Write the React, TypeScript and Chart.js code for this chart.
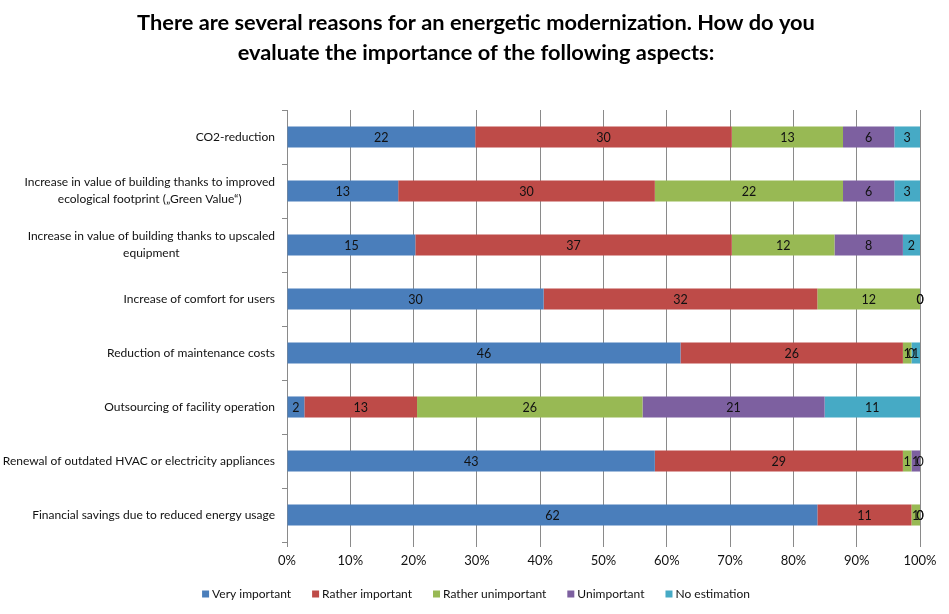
import React, { useEffect, useRef } from "react";
import { Chart, registerables } from "chart.js";

Chart.register(...registerables);

const titleLines = [
  "There are several reasons for an energetic modernization. How do you",
  "evaluate the importance of the following aspects:",
];

const categories: string[][] = [
  ["CO2-reduction"],
  ["Increase in value of building thanks to improved", "ecological footprint (\u201eGreen Value\u201c)"],
  ["Increase in value of building thanks to upscaled", "equipment"],
  ["Increase of comfort for users"],
  ["Reduction of maintenance costs"],
  ["Outsourcing of facility operation"],
  ["Renewal of outdated HVAC or electricity appliances"],
  ["Financial savings due to reduced energy usage"],
];

const seriesNames = ["Very important", "Rather important", "Rather unimportant", "Unimportant", "No estimation"];
const seriesColors = ["#4A7EBB", "#BE4B48", "#98B954", "#7D60A0", "#46AAC5"];

const veryImportant = [22, 13, 15, 30, 46, 2, 43, 62];
const ratherImportant = [30, 30, 37, 32, 26, 13, 29, 11];
const ratherUnimportant = [13, 22, 12, 12, 1, 26, 1, 1];
const unimportant = [6, 6, 8, 0, 0, 21, 1, 0];
const noEstimation = [3, 3, 2, 0, 1, 11, 0, 0];

const xTicks = [0, 10, 20, 30, 40, 50, 60, 70, 80, 90, 100];

const FONT = "Lato";

export default function App() {
  const ref = useRef<HTMLCanvasElement | null>(null);

  useEffect(() => {
    if (!ref.current) return;
    const counts = [veryImportant, ratherImportant, ratherUnimportant, unimportant, noEstimation];
    const totals = categories.map((_, i) => counts.reduce((s, arr) => s + arr[i], 0));

    const customPlugin = {
      id: "customLabels",
      afterDatasetsDraw(chart: any) {
        const ctx = chart.ctx;
        ctx.save();
        ctx.font = `12.5px ${FONT}`;
        ctx.fillStyle = "#111";
        ctx.textAlign = "center";
        ctx.textBaseline = "middle";
        chart.data.datasets.forEach((ds: any, di: number) => {
          const meta = chart.getDatasetMeta(di);
          meta.data.forEach((el: any, i: number) => {
            const cx = (el.x + el.base) / 2;
            ctx.fillText(String(ds.counts[i]), cx, el.y + 1);
          });
        });
        ctx.restore();
      },
      afterDraw(chart: any) {
        const ctx = chart.ctx;
        const y = chart.scales.y;
        ctx.save();
        ctx.font = `12px ${FONT}`;
        ctx.fillStyle = "#111";
        ctx.textBaseline = "middle";
        ctx.textAlign = "center";
        const right = y.right - 12;
        const lh = 17;
        categories.forEach((lines, i) => {
          const cy = y.getPixelForValue(i);
          const maxW = Math.max(...lines.map((l) => ctx.measureText(l).width));
          const cx = right - maxW / 2;
          lines.forEach((l, j) => {
            ctx.fillText(l, cx, cy + (j - (lines.length - 1) / 2) * lh);
          });
        });
        // legend
        const box = 7;
        const gapBoxText = 3;
        const gapItems = 21;
        const widths = seriesNames.map((n) => ctx.measureText(n).width);
        const total = widths.reduce((s, w) => s + box + gapBoxText + w, 0) + gapItems * (seriesNames.length - 1);
        let x = 476 - total / 2;
        const ly = 594;
        ctx.textAlign = "left";
        seriesNames.forEach((n, k) => {
          ctx.fillStyle = seriesColors[k];
          ctx.fillRect(x, ly - box / 2, box, box);
          ctx.fillStyle = "#111";
          ctx.fillText(n, x + box + gapBoxText, ly);
          x += box + gapBoxText + widths[k] + gapItems;
        });
        ctx.restore();
      },
    };

    const chart = new Chart(ref.current, {
      type: "bar",
      data: {
        labels: categories.map((c) => c.join(" ")),
        datasets: counts.map((arr, k) => ({
          label: seriesNames[k],
          data: arr.map((v, i) => (v / totals[i]) * 100),
          counts: arr,
          backgroundColor: seriesColors[k],
          borderWidth: 0,
          categoryPercentage: 1,
          barPercentage: 0.39,
        })) as any,
      },
      options: {
        indexAxis: "y",
        animation: false,
        responsive: false,
        layout: { padding: { top: 0, right: 29, bottom: 42, left: 32 } },
        plugins: {
          legend: { display: false },
          tooltip: { enabled: false },
          title: {
            display: true,
            text: titleLines,
            color: "#000",
            font: { family: FONT, size: 21.8, weight: "bold", lineHeight: 30 / 21.8 },
            padding: { top: 8, bottom: 42 },
          },
        },
        scales: {
          x: {
            stacked: true,
            min: 0,
            max: 100,
            afterBuildTicks(scale: any) {
              scale.ticks = xTicks.map((v) => ({ value: v }));
            },
            afterFit(scale: any) {
              scale.height = 30;
            },
            ticks: {
              color: "#111",
              font: { family: FONT, size: 13 },
              padding: 6,
              callback: (v: any) => `${v}%`,
            },
            grid: { color: "#8a8a8a", tickLength: 5, drawOnChartArea: true },
            border: { display: false },
          },
          y: {
            stacked: true,
            afterFit(scale: any) {
              scale.width = 255;
            },
            ticks: { display: false },
            grid: { offset: true, drawOnChartArea: false, tickLength: 5, color: "#8a8a8a" },
            border: { display: true, color: "#8a8a8a" },
          },
        },
      } as any,
      plugins: [customPlugin],
    });
    return () => chart.destroy();
  }, []);

  return (
    <div style={{ position: "absolute", left: 0, top: 0, width: 949, height: 614 }}>
      <canvas ref={ref} width={949} height={614} />
    </div>
  );
}
